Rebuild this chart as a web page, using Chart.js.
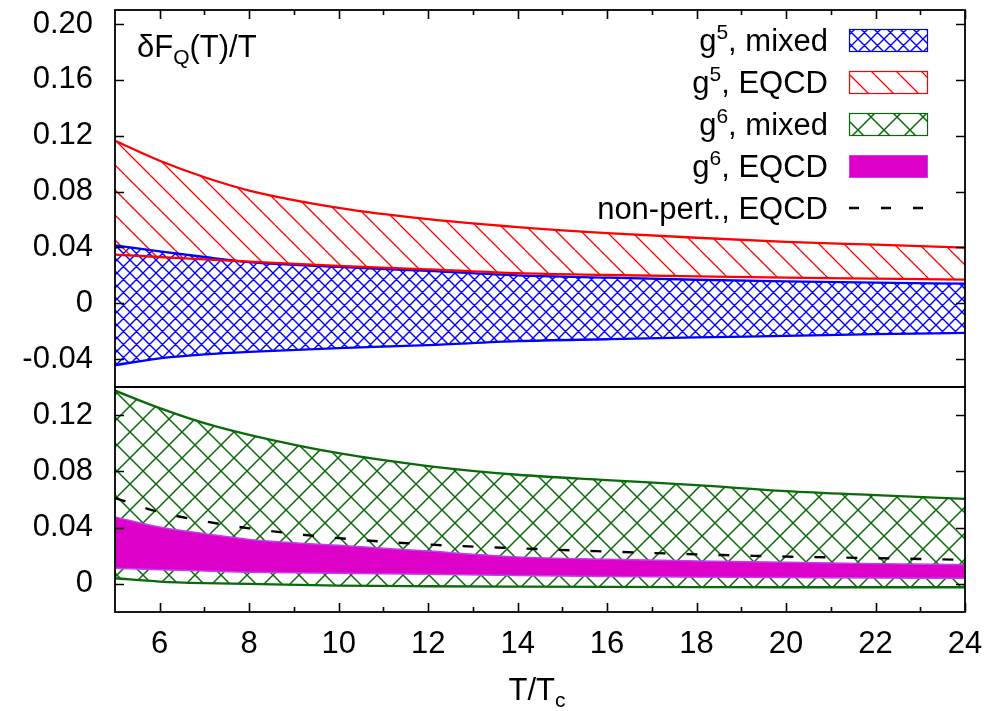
<!DOCTYPE html>
<html><head><meta charset="utf-8">
<script src="https://cdn.jsdelivr.net/npm/chart.js@4.4.1/dist/chart.umd.min.js"></script>
<style>
html,body{margin:0;padding:0;background:#fff;width:1002px;height:711px;overflow:hidden;}
#top{position:absolute;left:0;top:0;}
#bot{position:absolute;left:0;top:380px;}
</style></head><body>
<canvas id="top" width="1002" height="395"></canvas>
<canvas id="bot" width="1002" height="331"></canvas>
<script>
// ---------------- data ----------------
const T = [5, 6, 7, 8, 10, 12, 14, 16, 18, 20, 22, 24];
// top panel (g^5)
const g5EqcdHigh  = [0.1164, 0.1020, 0.0902, 0.0807, 0.0683, 0.0602, 0.0545, 0.0502, 0.0469, 0.0440, 0.0419, 0.0398];
const g5EqcdLow   = [0.0348, 0.0331, 0.0314, 0.0298, 0.0267, 0.0243, 0.0215, 0.0202, 0.0192, 0.0183, 0.0176, 0.0169];
const g5MixedHigh = [0.0414, 0.0371, 0.0331, 0.0295, 0.0260, 0.0231, 0.0200, 0.0183, 0.0168, 0.0157, 0.0148, 0.0140];
const g5MixedLow  = [-0.0443, -0.0395, -0.0367, -0.0348, -0.0321, -0.0300, -0.0272, -0.0258, -0.0245, -0.0234, -0.0222, -0.0212];
// bottom panel (g^6)
const g6MixedHigh = [0.1374, 0.1250, 0.1143, 0.1060, 0.0929, 0.0838, 0.0776, 0.0738, 0.0702, 0.0660, 0.0631, 0.0604];
const g6MixedLow  = [0.0040, 0.0016, 0.0005, 0.0000, -0.0012, -0.0017, -0.0020, -0.0022, -0.0023, -0.0024, -0.0024, -0.0024];
const g6EqcdHigh  = [0.0476, 0.0404, 0.0357, 0.0316, 0.0274, 0.0233, 0.0192, 0.0175, 0.0163, 0.0153, 0.0144, 0.0136];
const g6EqcdLow   = [0.0111, 0.0101, 0.0092, 0.0083, 0.0075, 0.0069, 0.0060, 0.0052, 0.0048, 0.0045, 0.0042, 0.0040];
const nonPert     = [0.0610, 0.0510, 0.0445, 0.0395, 0.0325, 0.0280, 0.0253, 0.0230, 0.0210, 0.0194, 0.0183, 0.0171];

// ticks
const xTickValues = [6, 8, 10, 12, 14, 16, 18, 20, 22, 24];
const xTickLabels = ['6', '8', '10', '12', '14', '16', '18', '20', '22', '24'];
const xMinorTicks = [7, 9, 11, 13, 15, 17, 19, 21, 23];
const topTickValues = [-0.04, 0, 0.04, 0.08, 0.12, 0.16, 0.20];
const topTickLabels = ['-0.04', '0', '0.04', '0.08', '0.12', '0.16', '0.20'];
const botTickValues = [0, 0.04, 0.08, 0.12];
const botTickLabels = ['0', '0.04', '0.08', '0.12'];

// legend text: base, superscript, rest
const legendEntries = [
  ['g', '5', ', mixed'],
  ['g', '5', ', EQCD'],
  ['g', '6', ', mixed'],
  ['g', '6', ', EQCD'],
  ['non-pert., EQCD', '', '']
];
const yLabel = ['\u03B4F', 'Q', '(T)/T'];
const xLabel = ['T/T', 'c'];

// ---------------- styles ----------------
const FONT = '"Liberation Sans", Arial, Helvetica, sans-serif';
const FS = 31, FSS = 21;
const BLUE = '#0000ff', RED = '#ff0000', GREEN = '#0a6a0a', MAG = '#dc00c8', MAGB = '#c040f0';

function pts(arr) { return T.map((t, i) => ({x: t, y: arr[i]})); }

function crossPattern(ctx, color, s, lw) {
  const c = document.createElement('canvas'); c.width = s; c.height = s;
  const g = c.getContext('2d'); g.strokeStyle = color; g.lineWidth = lw;
  g.beginPath();
  for (const o of [-s, 0, s]) {
    g.moveTo(o, 0); g.lineTo(o + s, s);
    g.moveTo(o, s); g.lineTo(o + s, 0);
  }
  g.stroke();
  return ctx.createPattern(c, 'repeat');
}
function hatchPattern(ctx, color, w, h, lw) {
  const c = document.createElement('canvas'); c.width = w; c.height = h;
  const g = c.getContext('2d'); g.strokeStyle = color; g.lineWidth = lw;
  g.beginPath();
  for (const o of [-w, 0, w]) { g.moveTo(o, 0); g.lineTo(o + w, h); }
  g.stroke();
  return ctx.createPattern(c, 'repeat');
}

const ctxTop = document.getElementById('top').getContext('2d');
const ctxBot = document.getElementById('bot').getContext('2d');
const bluePat = crossPattern(ctxTop, BLUE, 13, 1.4);
const redPat = hatchPattern(ctxTop, RED, 25, 25, 1.3);
const greenPatTop = crossPattern(ctxTop, GREEN, 26, 1.5);
const greenPat = crossPattern(ctxBot, GREEN, 26, 1.5);

function drawRich(ctx, parts, x, y, align) {
  let total = 0;
  for (const p of parts) { ctx.font = p[1] + 'px ' + FONT; total += ctx.measureText(p[0]).width; }
  let cx = align === 'right' ? x - total : (align === 'center' ? x - total / 2 : x);
  ctx.textAlign = 'left'; ctx.textBaseline = 'alphabetic'; ctx.fillStyle = '#000';
  for (const p of parts) {
    ctx.font = p[1] + 'px ' + FONT;
    ctx.fillText(p[0], cx, y + p[2]);
    cx += ctx.measureText(p[0]).width;
  }
}

function framePlugin(yVals, xEdge) {
  return {
    id: 'frame' + xEdge,
    afterDraw(chart) {
      const {ctx, chartArea: a} = chart;
      const xs = chart.scales.x, ys = chart.scales.y;
      ctx.save();
      ctx.strokeStyle = '#000'; ctx.lineWidth = 1.6;
      ctx.beginPath();
      for (const v of yVals) {
        const py = Math.round(ys.getPixelForValue(v)) + 0.5;
        ctx.moveTo(a.left, py); ctx.lineTo(a.left + 9, py);
        ctx.moveTo(a.right, py); ctx.lineTo(a.right - 9, py);
      }
      const yb = xEdge === 'top' ? a.top : a.bottom;
      const dir = xEdge === 'top' ? 1 : -1;
      for (const v of xTickValues) {
        const px = Math.round(xs.getPixelForValue(v)) + 0.5;
        ctx.moveTo(px, yb); ctx.lineTo(px, yb + dir * 9);
      }
      for (const v of xMinorTicks) {
        const px = Math.round(xs.getPixelForValue(v)) + 0.5;
        ctx.moveTo(px, yb); ctx.lineTo(px, yb + dir * 5);
      }
      ctx.stroke();
      ctx.lineWidth = 1.8;
      ctx.strokeRect(a.left, a.top, a.right - a.left, a.bottom - a.top);
      ctx.restore();
    }
  };
}

const legendPlugin = {
  id: 'customLegend',
  afterDraw(chart) {
    const ctx = chart.ctx;
    const rows = [40, 82, 124, 166, 208];
    const x0 = 849, x1 = 927;
    ctx.save();
    legendEntries.forEach((e, i) => {
      const cy = rows[i];
      const parts = [[e[0], FS, 0]];
      if (e[1]) parts.push([e[1], FSS, -12]);
      if (e[2]) parts.push([e[2], FS, 0]);
      drawRich(ctx, parts, 828, cy + 11, 'right');
      const top = cy - 11, h = 22;
      if (i === 0) { ctx.fillStyle = bluePat; ctx.fillRect(x0, top, x1 - x0, h); ctx.strokeStyle = BLUE; ctx.lineWidth = 1.2; ctx.strokeRect(x0 + 0.5, top + 0.5, x1 - x0, h); }
      if (i === 1) { ctx.fillStyle = redPat; ctx.fillRect(x0, top, x1 - x0, h); ctx.strokeStyle = RED; ctx.lineWidth = 1.2; ctx.strokeRect(x0 + 0.5, top + 0.5, x1 - x0, h); }
      if (i === 2) { ctx.fillStyle = greenPatTop; ctx.fillRect(x0, top, x1 - x0, h); ctx.strokeStyle = GREEN; ctx.lineWidth = 1.2; ctx.strokeRect(x0 + 0.5, top + 0.5, x1 - x0, h); }
      if (i === 3) { ctx.fillStyle = MAG; ctx.fillRect(x0, top, x1 - x0, h); ctx.strokeStyle = MAGB; ctx.lineWidth = 1; ctx.strokeRect(x0 + 0.5, top + 0.5, x1 - x0, h); }
      if (i === 4) { ctx.strokeStyle = '#000'; ctx.lineWidth = 2.4; ctx.setLineDash([10, 22]); ctx.beginPath(); ctx.moveTo(x0, cy); ctx.lineTo(x1, cy); ctx.stroke(); ctx.setLineDash([]); }
    });
    drawRich(ctx, [[yLabel[0], FS, 0], [yLabel[1], FSS, 7], [yLabel[2], FS, 0]], 137, 57, 'left');
    ctx.restore();
  }
};

const xLabelPlugin = {
  id: 'xLabel',
  afterDraw(chart) {
    const a = chart.chartArea;
    drawRich(chart.ctx, [[xLabel[0], FS, 0], [xLabel[1], FSS, 7]], (a.left + a.right) / 2 - 3, 320, 'center');
  }
};

function lineDs(arr, color, extra) {
  return Object.assign({data: pts(arr), borderColor: color, borderWidth: 2.3, pointRadius: 0,
    cubicInterpolationMode: 'monotone', fill: false, backgroundColor: 'transparent'}, extra || {});
}

function yAxis(min, max, vals, labels) {
  return {
    type: 'linear', min, max, position: 'left',
    grid: {display: false, drawTicks: false}, border: {display: false},
    ticks: {padding: 22, color: '#000', font: {family: FONT, size: FS}, callback: (v, i) => labels[i]},
    afterBuildTicks: s => { s.ticks = vals.map(v => ({value: v})); },
    afterFit: s => { s.width = 115; s.paddingTop = 0; s.paddingBottom = 0; }
  };
}

Chart.defaults.font.family = FONT;

new Chart(ctxTop, {
  type: 'line',
  data: {datasets: [
    lineDs(g5EqcdLow, RED),
    lineDs(g5EqcdHigh, RED, {fill: {target: 0}, backgroundColor: redPat}),
    lineDs(g5MixedLow, BLUE),
    lineDs(g5MixedHigh, BLUE, {fill: {target: 2}, backgroundColor: bluePat})
  ]},
  options: {
    responsive: false, animation: false, devicePixelRatio: 1,
    layout: {padding: {left: 0, right: 37, top: 10, bottom: 8}},
    plugins: {legend: {display: false}, tooltip: {enabled: false}, filler: {drawTime: 'beforeDatasetsDraw'}},
    scales: {
      x: {type: 'linear', min: 5, max: 24, display: false},
      y: yAxis(-0.06, 0.21, topTickValues, topTickLabels)
    }
  },
  plugins: [framePlugin(topTickValues, 'top'), legendPlugin]
});

new Chart(ctxBot, {
  type: 'line',
  data: {datasets: [
    lineDs(nonPert, '#000', {borderDash: [11, 21], borderWidth: 2.4}),
    lineDs(g6EqcdLow, MAGB, {borderWidth: 1.5}),
    lineDs(g6EqcdHigh, MAGB, {borderWidth: 1.5, fill: {target: 1}, backgroundColor: MAG}),
    lineDs(g6MixedLow, GREEN),
    lineDs(g6MixedHigh, GREEN, {fill: {target: 3}, backgroundColor: greenPat})
  ]},
  options: {
    responsive: false, animation: false, devicePixelRatio: 1,
    layout: {padding: {left: 0, right: 37, top: 7, bottom: 0}},
    plugins: {legend: {display: false}, tooltip: {enabled: false}, filler: {drawTime: 'beforeDatasetsDraw'}},
    scales: {
      x: {type: 'linear', min: 5, max: 24, position: 'bottom',
        grid: {display: false, drawTicks: false}, border: {display: false},
        ticks: {padding: 14, color: '#000', maxRotation: 0, autoSkip: false, font: {family: FONT, size: FS}, callback: (v, i) => xTickLabels[i]},
        afterBuildTicks: s => { s.ticks = xTickValues.map(v => ({value: v})); },
        afterFit: s => { s.height = 99; s.paddingLeft = 0; s.paddingRight = 0; }
      },
      y: yAxis(-0.02, 0.14, botTickValues, botTickLabels)
    }
  },
  plugins: [framePlugin(botTickValues, 'bottom'), xLabelPlugin]
});
</script>
</body></html>
